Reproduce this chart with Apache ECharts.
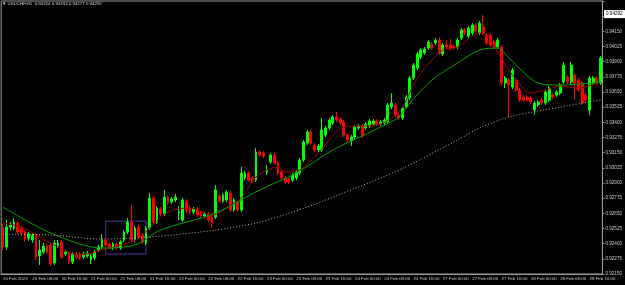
<!DOCTYPE html>
<html>
<head>
<meta charset="utf-8">
<script src="https://cdn.jsdelivr.net/npm/echarts@6/dist/echarts.min.js"></script>
<style>
  html, body { margin: 0; padding: 0; background: #000; }
  #usdchf { width: 625px; height: 285px; }
</style>
</head>
<body>
<div id="usdchf"></div>
<script>
// USDCHF H1, 20 Feb 2023 - 28 Feb 2023
const days = ['20 Feb', '21 Feb', '22 Feb', '23 Feb', '24 Feb', '27 Feb', '28 Feb'];
const barsPerDay = [24, 24, 24, 24, 24, 24, 20];

const opens = [
  0.92529,0.92372,0.92537,0.92529,0.92570,0.92529,0.92496,0.92446,0.92430,0.92471,
  0.92298,0.92331,0.92380,0.92389,0.92240,0.92380,0.92413,0.92315,0.92323,0.92249,
  0.92315,0.92315,0.92290,0.92298,0.92265,0.92282,0.92348,0.92372,0.92430,0.92397,
  0.92364,0.92397,0.92364,0.92430,0.92496,0.92578,0.92430,0.92537,0.92471,0.92405,
  0.92529,0.92776,0.92578,0.92685,0.92644,0.92784,0.92743,0.92760,0.92652,0.92595,
  0.92751,0.92694,0.92661,0.92685,0.92652,0.92628,0.92644,0.92619,0.92619,0.92793,
  0.92751,0.92760,0.92817,0.92677,0.92735,0.92677,0.92941,0.92982,0.92941,0.92924,
  0.93155,0.93147,0.92990,0.93073,0.93131,0.93065,0.92990,0.92941,0.92933,0.92924,
  0.92941,0.92982,0.93089,0.93229,0.93320,0.93213,0.93172,0.93172,0.93295,0.93353,
  0.93394,0.93444,0.93427,0.93403,0.93295,0.93246,0.93279,0.93353,0.93370,0.93353,
  0.93370,0.93386,0.93411,0.93386,0.93394,0.93403,0.93526,0.93543,0.93460,0.93435,
  0.93526,0.93600,0.93765,0.93848,0.93938,0.93971,0.94012,0.94045,0.94054,0.94078,
  0.93963,0.94037,0.94037,0.94029,0.94021,0.94095,0.94161,0.94111,0.94136,0.94202,
  0.94136,0.94185,0.94119,0.94119,0.94062,0.94021,0.94021,0.93724,0.93749,0.93691,
  0.93749,0.93666,0.93608,0.93608,0.93600,0.93501,0.93543,0.93584,0.93559,0.93584,
  0.93625,0.93625,0.93641,0.93732,0.93773,0.93732,0.93790,0.93749,0.93724,0.93625,
  0.93501,0.93724,0.93765,0.93724
];
const closes = [
  0.92372,0.92537,0.92553,0.92578,0.92496,0.92488,0.92438,0.92479,0.92471,0.92290,
  0.92348,0.92380,0.92331,0.92232,0.92405,0.92405,0.92290,0.92331,0.92249,0.92315,
  0.92290,0.92282,0.92315,0.92323,0.92298,0.92331,0.92372,0.92430,0.92389,0.92372,
  0.92397,0.92364,0.92413,0.92496,0.92578,0.92430,0.92529,0.92455,0.92413,0.92529,
  0.92776,0.92578,0.92694,0.92644,0.92784,0.92735,0.92768,0.92784,0.92661,0.92760,
  0.92669,0.92661,0.92685,0.92636,0.92628,0.92644,0.92595,0.92570,0.92842,0.92751,
  0.92801,0.92826,0.92677,0.92760,0.92677,0.92982,0.92982,0.92924,0.92916,0.93155,
  0.93131,0.93122,0.93007,0.93131,0.93065,0.92982,0.92941,0.92908,0.92908,0.92966,
  0.92990,0.93089,0.93238,0.93320,0.93229,0.93172,0.93205,0.93337,0.93353,0.93419,
  0.93444,0.93419,0.93394,0.93295,0.93254,0.93279,0.93361,0.93370,0.93287,0.93386,
  0.93411,0.93411,0.93386,0.93403,0.93419,0.93543,0.93559,0.93460,0.93435,0.93518,
  0.93608,0.93765,0.93872,0.93963,0.93996,0.94004,0.94062,0.94012,0.94078,0.93971,
  0.94037,0.94021,0.94012,0.94012,0.94078,0.94161,0.94136,0.94177,0.94202,0.94152,
  0.94218,0.94136,0.94054,0.94037,0.94021,0.94078,0.93724,0.93765,0.93707,0.93831,
  0.93666,0.93584,0.93584,0.93584,0.93567,0.93559,0.93567,0.93559,0.93650,0.93683,
  0.93608,0.93650,0.93707,0.93872,0.93732,0.93872,0.93724,0.93666,0.93559,0.93584,
  0.93765,0.93765,0.93724,0.93930
];
const highs = [
  0.92562,0.92595,0.92578,0.92611,0.92586,0.92545,0.92512,0.92496,0.92488,0.92488,
  0.92430,0.92405,0.92397,0.92405,0.92430,0.92430,0.92430,0.92348,0.92339,0.92331,
  0.92331,0.92331,0.92331,0.92339,0.92315,0.92348,0.92389,0.92479,0.92446,0.92413,
  0.92413,0.92413,0.92430,0.92512,0.92611,0.92718,0.92545,0.92553,0.92488,0.92545,
  0.92817,0.92793,0.92710,0.92702,0.92842,0.92801,0.92784,0.92809,0.92710,0.92776,
  0.92768,0.92710,0.92702,0.92702,0.92669,0.92661,0.92661,0.92636,0.92883,0.92809,
  0.92817,0.92842,0.92834,0.92776,0.92751,0.93032,0.92999,0.92999,0.92957,0.93188,
  0.93172,0.93163,0.93048,0.93147,0.93147,0.93081,0.93007,0.92957,0.92949,0.92982,
  0.93007,0.93106,0.93254,0.93337,0.93337,0.93229,0.93221,0.93435,0.93370,0.93435,
  0.93460,0.93485,0.93444,0.93419,0.93312,0.93295,0.93378,0.93386,0.93386,0.93403,
  0.93427,0.93427,0.93427,0.93419,0.93435,0.93559,0.93641,0.93559,0.93477,0.93534,
  0.93625,0.93782,0.93889,0.93979,0.94012,0.94021,0.94078,0.94062,0.94095,0.94103,
  0.94054,0.94078,0.94087,0.94045,0.94095,0.94177,0.94177,0.94194,0.94218,0.94218,
  0.94235,0.94284,0.94136,0.94136,0.94078,0.94095,0.94037,0.93782,0.93765,0.93848,
  0.93765,0.93683,0.93625,0.93625,0.93617,0.93576,0.93584,0.93600,0.93666,0.93699,
  0.93641,0.93666,0.93724,0.93897,0.93790,0.93897,0.93806,0.93765,0.93740,0.93641,
  0.93782,0.93782,0.93782,0.93946
];
const lows = [
  0.92348,0.92348,0.92512,0.92512,0.92479,0.92463,0.92413,0.92422,0.92405,0.92265,
  0.92224,0.92315,0.92315,0.92216,0.92224,0.92364,0.92273,0.92298,0.92232,0.92232,
  0.92273,0.92265,0.92273,0.92282,0.92232,0.92265,0.92331,0.92356,0.92372,0.92356,
  0.92348,0.92348,0.92348,0.92413,0.92479,0.92413,0.92413,0.92438,0.92397,0.92389,
  0.92512,0.92562,0.92562,0.92628,0.92628,0.92718,0.92727,0.92743,0.92595,0.92578,
  0.92652,0.92644,0.92644,0.92619,0.92611,0.92611,0.92578,0.92529,0.92603,0.92735,
  0.92735,0.92743,0.92661,0.92661,0.92661,0.92661,0.92924,0.92908,0.92900,0.92908,
  0.93114,0.93106,0.92966,0.93056,0.93048,0.92966,0.92924,0.92891,0.92891,0.92908,
  0.92924,0.92966,0.93073,0.93213,0.93213,0.93155,0.93155,0.93155,0.93279,0.93337,
  0.93378,0.93403,0.93378,0.93279,0.93238,0.93205,0.93262,0.93337,0.93271,0.93337,
  0.93353,0.93370,0.93370,0.93370,0.93378,0.93386,0.93510,0.93444,0.93419,0.93419,
  0.93510,0.93584,0.93749,0.93831,0.93922,0.93955,0.93996,0.93996,0.94037,0.93955,
  0.93946,0.94004,0.93996,0.93996,0.94004,0.94078,0.94119,0.94095,0.94119,0.94136,
  0.94119,0.94119,0.94037,0.94021,0.94004,0.94004,0.93699,0.93683,0.93435,0.93674,
  0.93650,0.93567,0.93567,0.93567,0.93551,0.93460,0.93526,0.93543,0.93543,0.93567,
  0.93592,0.93608,0.93625,0.93716,0.93716,0.93716,0.93584,0.93650,0.93543,0.93567,
  0.93460,0.93707,0.93707,0.93707
];

// moving averages: [bar index, price]
const maFast = [
  [0,0.92570],[5,0.92537],[13,0.92405],[21,0.92306],[27,0.92348],[34,0.92405],[37,0.92446],
  [40,0.92529],[45,0.92661],[51,0.92694],[57,0.92636],[62,0.92718],[65,0.92776],[69,0.92949],
  [75,0.93032],[77,0.92990],[81,0.93007],[86,0.93147],[93,0.93361],[102,0.93378],[108,0.93485],
  [113,0.93765],[117,0.93913],[120,0.93996],[124,0.94021],[130,0.94136],[133,0.94078],
  [135,0.93971],[140,0.93749],[144,0.93641],[148,0.93666],[152,0.93699],[157,0.93683],[163,0.93732]
];
const maMid = [
  [0,0.92702],[13,0.92488],[27,0.92364],[36,0.92389],[43,0.92512],[58,0.92652],[70,0.92842],
  [80,0.92982],[90,0.93172],[103,0.93361],[108,0.93444],[111,0.93559],[117,0.93749],
  [124,0.93889],[130,0.93996],[135,0.94012],[138,0.93930],[146,0.93724],[152,0.93707],[163,0.93732]
];
const maSlow = [
  [0,0.92479],[13,0.92471],[27,0.92438],[40,0.92455],[58,0.92512],[70,0.92578],[83,0.92702],
  [90,0.92784],[108,0.93007],[124,0.93254],[130,0.93353],[138,0.93444],[146,0.93493],
  [152,0.93526],[163,0.93584]
];

const yTicks = { min: 0.92150, max: 0.94400, step: 0.00125 };
const lastPrice = 0.94292;
const header = 'USDCHF,H1  0.94324 0.94333 0.94277 0.94292';
const boxFrom = [28, 0.92586];
const boxTo = [39, 0.92315];

let categories = [];
days.forEach((d, k) => {
  for (let h = 0; h < barsPerDay[k]; h++) {
    categories.push(d + ' ' + (h < 10 ? '0' + h : h) + ':00');
  }
});
let candles = opens.map((o, i) => [o, closes[i], lows[i], highs[i]]);

const smallFont = 'Liberation Sans';

let myChart = echarts.init(document.getElementById('usdchf'));
myChart.setOption({
  backgroundColor: '#000',
  animation: false,
  textStyle: { fontFamily: smallFont },
  grid: {
    left: 1, right: 22, top: 1, bottom: 11,
    show: true, borderColor: '#9a9a9a', borderWidth: 1
  },
  xAxis: {
    type: 'category',
    data: categories,
    boundaryGap: true,
    axisLine: { lineStyle: { color: '#9a9a9a' } },
    axisTick: { interval: 7, alignWithLabel: true, length: 2, lineStyle: { color: '#9a9a9a' } },
    axisLabel: {
      interval: 7,
      color: '#c8c8c8',
      fontSize: 4.4,
      fontFamily: smallFont,
      align: 'left',
      margin: 3,
      formatter: (v, idx) => idx === 0 ? '20 Feb 2023' : v
    },
    splitLine: { show: false }
  },
  yAxis: {
    type: 'value',
    position: 'right',
    min: yTicks.min,
    max: yTicks.max,
    interval: yTicks.step,
    axisLine: { show: true, lineStyle: { color: '#9a9a9a' } },
    axisTick: { show: true, length: 2, lineStyle: { color: '#9a9a9a' } },
    axisLabel: {
      color: '#c8c8c8',
      fontSize: 4.6,
      fontFamily: smallFont,
      margin: 3,
      formatter: v => v > 0.9416 ? '' : v.toFixed(5)
    },
    splitLine: { show: false }
  },
  series: [
    {
      name: 'USDCHF',
      type: 'candlestick',
      data: candles,
      barWidth: 2.4,
      itemStyle: {
        color: '#00ff00', color0: '#ff0000',
        borderColor: '#00ff00', borderColor0: '#ff0000',
        borderWidth: 1
      },
      markArea: {
        silent: true,
        itemStyle: { color: 'rgba(0,0,0,0)', borderColor: '#3c3c9a', borderWidth: 1 },
        data: [[{ xAxis: boxFrom[0], yAxis: boxFrom[1] }, { xAxis: boxTo[0], yAxis: boxTo[1] }]]
      }
    },
    {
      name: 'MA fast', type: 'line', data: maFast, smooth: 0.3,
      symbol: 'none', lineStyle: { color: '#a00000', width: 1 }
    },
    {
      name: 'MA mid', type: 'line', data: maMid, smooth: 0.3,
      symbol: 'none', lineStyle: { color: '#00a000', width: 1 }
    },
    {
      name: 'MA slow', type: 'line', data: maSlow, smooth: 0.3,
      symbol: 'none', lineStyle: { color: '#b4b4b4', width: 1, type: [1, 2] }
    }
  ]
});

// header text and the current-price tag on the price scale
let tagY = myChart.convertToPixel({ yAxisIndex: 0 }, lastPrice);
myChart.setOption({
  graphic: [
    {
      type: 'text', left: 2, top: 2,
      style: { text: '▼ ' + header, fill: '#d8d8d8', font: '4.4px ' + smallFont }
    },
    {
      type: 'group', x: 604, y: tagY,
      children: [
        { type: 'rect', shape: { x: 0, y: -4, width: 21, height: 8 }, style: { fill: '#fff' } },
        {
          type: 'text', x: 2, y: 0,
          style: { text: lastPrice.toFixed(5), fill: '#000', font: '4.6px ' + smallFont, textVerticalAlign: 'middle' }
        }
      ]
    }
  ]
});
</script>
</body>
</html>
